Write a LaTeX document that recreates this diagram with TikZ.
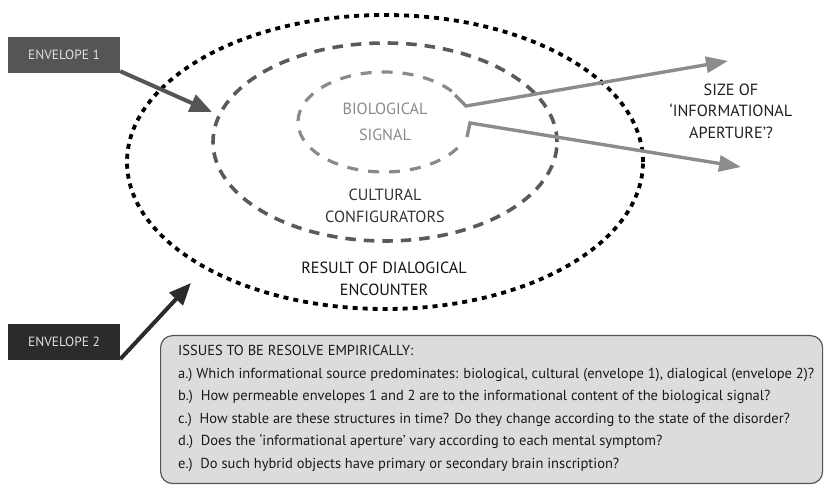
\documentclass[tikz,border=0pt]{standalone}
\usepackage{fontspec}
\setmainfont{PT Sans}
\usetikzlibrary{arrows.meta}
\definecolor{envA}{HTML}{555555}
\definecolor{envB}{HTML}{2B2B2B}
\definecolor{arrowgray}{HTML}{8C8C8C}
\definecolor{biogray}{HTML}{8A8A8A}
\definecolor{midgray}{HTML}{5A5A5A}
\definecolor{issuefill}{HTML}{DCDCDC}
\begin{document}
\begin{tikzpicture}[x=1pt,y=-1pt,
  envbox/.style={fill=#1,text=white!88!black,minimum width=112pt,minimum height=36pt,inner sep=0pt,font=\fontsize{13.4}{15}\selectfont},
  label/.style={align=center,font=\fontsize{16.2}{22}\selectfont},
  outerring/.style={line width=3.8pt,dash pattern=on 5pt off 5pt,black},
  midring/.style={line width=3.6pt,dash pattern=on 10.5pt off 8pt,midgray},
  innerring/.style={line width=3.2pt,dash pattern=on 11pt off 10pt,biogray},
  aperture/.style={line width=3.4pt,arrowgray,-{Triangle[length=22pt,width=16pt]}},
  envarrow/.style={line width=4pt,#1,-{Triangle[length=22pt,width=18pt]}}
]
\useasboundingbox (0,0) rectangle (831,486);

% nested envelopes
\coordinate (outerc) at (385,162);
\coordinate (midc) at (385,142);
\coordinate (bio) at (384,122);
\draw[outerring] (outerc) ellipse [x radius=258pt, y radius=147pt];
\draw[midring] (midc) ellipse [x radius=172pt, y radius=99pt];
\draw[innerring] ([shift={(38:86pt and 50pt)}]bio) arc [start angle=38, end angle=336, x radius=86pt, y radius=50pt];

% ring labels
\node[label,text=biogray,font=\fontsize{16.2}{26}\selectfont] (biolab) at (385,122) {BIOLOGICAL\\SIGNAL};
\node[label,text=black!80] (cultlab) at (385,206) {CULTURAL\\CONFIGURATORS};
\node[label,text=black!92] (dialab) at (384,279) {RESULT OF DIALOGICAL\\ENCOUNTER};
\node[label,text=black!88,font=\fontsize{16.2}{21.5}\selectfont] (sizelab) at (731,111) {SIZE OF\\‘INFORMATIONAL\\APERTURE’?};

% aperture arrows leaving the biological signal
\coordinate (a1s) at (455,95);
\coordinate (a1k) at (466,106);
\coordinate (a1e) at (728,61);
\coordinate (a2s) at (467,137);
\coordinate (a2k) at (470,123);
\coordinate (a2e) at (741,167);
\draw[aperture] (a1s) -- (a1k) -- (a1e);
\draw[aperture] (a2s) -- (a2k) -- (a2e);

% envelope tags
\node[envbox=envA] (env1) at (64,55) {ENVELOPE 1};
\node[envbox=envB] (env2) at (64,342) {ENVELOPE 2};
\coordinate (env1tip) at (212,112);
\coordinate (env2tip) at (191,283);
\draw[envarrow=envA] (env1.south east) ++(0,-2) -- (env1tip);
\draw[envarrow=envB] (env2.south east) ++(0,-1) -- (env2tip);

% open questions
\node[draw=envA,line width=1.2pt,fill=issuefill,rounded corners=12pt,minimum width=662pt,minimum height=148pt,anchor=north west] (issues) at (160,335) {};
\node[anchor=north west,align=left,inner sep=0pt,text=black!90,font=\fontsize{14.5}{22.6}\selectfont] (issuetext) at (178,345) {%
ISSUES TO BE RESOLVE EMPIRICALLY:\\
a.)\ Which informational source predominates: biological, cultural (envelope 1), dialogical (envelope 2)?\\
b.)\ \ How permeable envelopes 1 and 2 are to the informational content of the biological signal?\\
c.)\ \ How stable are these structures in time? Do they change according to the state of the disorder?\\
d.)\ \ Does the ‘informational aperture’ vary according to each mental symptom?\\
e.)\ \ Do such hybrid objects have primary or secondary brain inscription?};
\end{tikzpicture}
\end{document}
